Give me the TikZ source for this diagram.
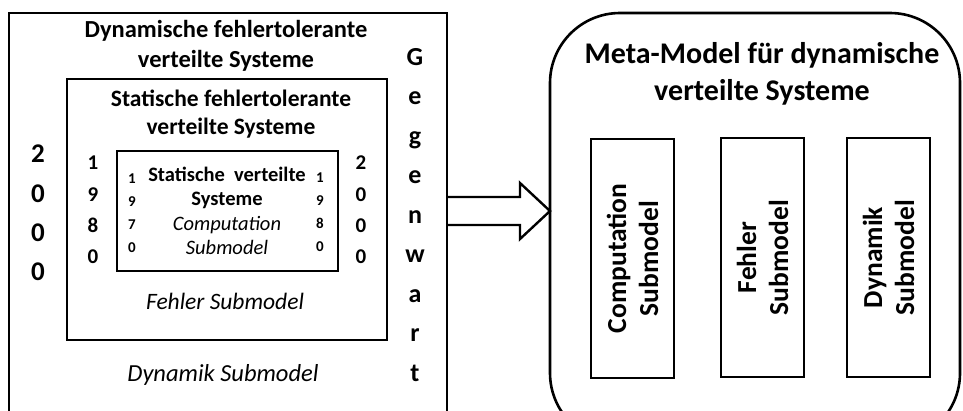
\documentclass[tikz,border=0pt]{standalone}
\usepackage{fontspec}
\setmainfont{Carlito}
\begin{document}
\begin{tikzpicture}[x=1pt,y=-1pt,
    frame/.style={draw=black,line width=2.6pt,outer sep=0pt,inner sep=0pt},
    boxtitle/.style={align=center,font=\bfseries\fontsize{24.5}{30}\selectfont},
    sublabel/.style={font=\itshape\fontsize{23.5}{26}\selectfont},
    yearcol/.style={align=center,inner sep=0pt},
    subbox/.style={frame,minimum width=83pt,minimum height=239pt,anchor=north west},
    subtext/.style={rotate=90,align=center,font=\bfseries\fontsize{27.5}{32}\selectfont}]
    \useasboundingbox (0,0) rectangle (963,410);
    \clip (0,0) rectangle (963,410);
    % left side: nested system classes
    \node[frame,minimum width=438pt,minimum height=430pt,anchor=north west] (outer) at (9,13) {};
    \node[frame,minimum width=320pt,minimum height=261pt,anchor=north west] (middle) at (67,79) {};
    \node[frame,minimum width=221pt,minimum height=120pt,anchor=north west] (inner) at (117,151) {};
    \node[boxtitle] (outertitle) at (226,46) {Dynamische fehlertolerante\\verteilte Systeme};
    \node[boxtitle,font=\bfseries\fontsize{23.5}{28}\selectfont] (middletitle) at (231,114) {Statische fehlertolerante\\verteilte Systeme};
    \node[align=center,font=\fontsize{20.5}{24.3}\selectfont] (innertitle) at (227,211)
        {\textbf{Statische\ \ verteilte}\\\textbf{Systeme}\\\textit{Computation}\\\textit{Submodel}};
    \node[sublabel] (fehler) at (225,301) {Fehler Submodel};
    \node[sublabel,font=\itshape\fontsize{24.5}{26}\selectfont] (dynamik) at (223,375) {Dynamik Submodel};
    % years
    \node[yearcol,font=\bfseries\fontsize{27}{39.3}\selectfont] (y2000a) at (38,213) {2\\0\\0\\0};
    \node[yearcol,font=\bfseries\fontsize{21}{31.3}\selectfont] (y1980a) at (93,210) {1\\9\\8\\0};
    \node[yearcol,font=\bfseries\fontsize{21}{31.3}\selectfont] (y2000b) at (361,210) {2\\0\\0\\0};
    \node[yearcol,font=\bfseries\fontsize{15}{23}\selectfont] (y1970) at (132,213) {1\\9\\7\\0};
    \node[yearcol,font=\bfseries\fontsize{15}{23}\selectfont] (y1980b) at (320,212) {1\\9\\8\\0};
    \node[yearcol,font=\bfseries\fontsize{26}{39.5}\selectfont] (heute) at (415,215) {G\\e\\g\\e\\n\\w\\a\\r\\t};
    % right side: meta-model
    \node[frame,rounded corners=70pt,minimum width=410pt,minimum height=430pt,anchor=north west] (meta) at (550,13) {};
    \node[boxtitle,font=\bfseries\fontsize{30}{37}\selectfont] (metatitle) at (762,74) {Meta-Model für dynamische\\verteilte Systeme};
    \node[subbox] (comp) at (591,139) {};
    \node[subbox] (fehl) at (721,138) {};
    \node[subbox] (dyn) at (847,138) {};
    \node[subtext] at (comp) {Computation\\Submodel};
    \node[subtext] at (fehl) {Fehler\\Submodel};
    \node[subtext] at (dyn) {Dynamik\\Submodel};
    % transformation arrow
    \coordinate (arrowtop) at (0,197);
    \coordinate (arrowmid) at (0,211);
    \coordinate (arrowbot) at (0,225);
    \draw[line width=2.4pt,line join=miter] (outer.east |- arrowtop) -- (520,197) -- (520,183)
        -- (meta.west |- arrowmid) -- (520,239) -- (520,225) -- (outer.east |- arrowbot);
\end{tikzpicture}
\end{document}
